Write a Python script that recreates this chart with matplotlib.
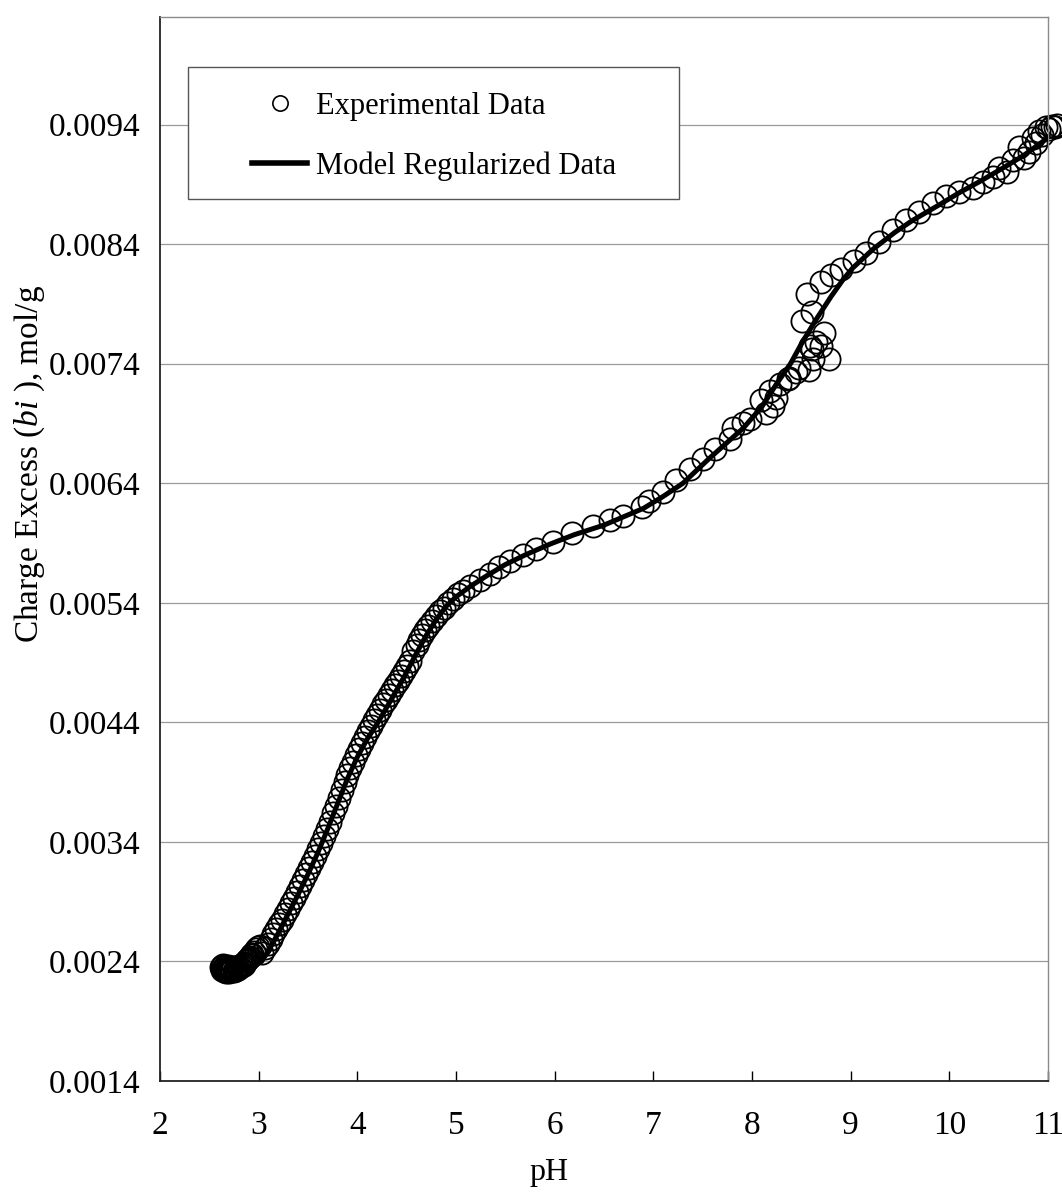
import matplotlib
matplotlib.use("Agg")
import matplotlib.pyplot as plt
from matplotlib.lines import Line2D
from matplotlib.patches import Rectangle
from matplotlib.ticker import FixedLocator, FormatStrFormatter

plt.rcParams['font.family'] = ['Liberation Serif', 'DejaVu Serif']
plt.rcParams['mathtext.fontset'] = 'custom'
plt.rcParams['mathtext.rm'] = 'Liberation Serif'
plt.rcParams['mathtext.it'] = 'Liberation Serif:italic'

# Titration data: pH vs charge excess (mol/g, in units of 1e-3)
exp_ph = [2.62, 2.63, 2.63, 2.64, 2.64, 2.65, 2.65, 2.66, 2.66, 2.67, 2.67, 2.68,
          2.68, 2.69, 2.69, 2.70, 2.70, 2.71, 2.71, 2.72, 2.72, 2.73, 2.74, 2.75,
          2.76, 2.77, 2.78, 2.79, 2.80, 2.81, 2.82, 2.83, 2.84, 2.85, 2.86, 2.87,
          2.88, 2.89, 2.90, 2.91, 2.92, 2.93, 2.95, 2.97, 2.99,
          3.01, 3.03, 3.06, 3.09, 3.12, 3.15, 3.18, 3.21, 3.24, 3.27, 3.30, 3.33,
          3.36, 3.39, 3.42, 3.45, 3.48, 3.51, 3.54, 3.57, 3.60, 3.63, 3.66, 3.69,
          3.72, 3.75, 3.78, 3.81, 3.84, 3.87, 3.90, 3.93, 3.96, 3.99, 4.02, 4.05,
          4.08, 4.11, 4.14, 4.17, 4.20, 4.23, 4.26, 4.29, 4.32, 4.35, 4.38, 4.41,
          4.44, 4.47, 4.50, 4.53, 4.56, 4.60, 4.63, 4.66, 4.69, 4.72, 4.76, 4.80,
          4.84, 4.88, 4.92, 4.97, 5.02, 5.07, 5.14, 5.24, 5.34, 5.44, 5.55, 5.68,
          5.81, 5.98, 6.18, 6.39, 6.56, 6.69, 6.89, 6.96, 7.10, 7.23, 7.37, 7.50,
          7.63, 7.78, 7.81, 7.91, 7.98, 8.09, 8.14, 8.18, 8.21, 8.24, 8.28, 8.36,
          8.38, 8.45, 8.48, 8.51, 8.56, 8.58, 8.59, 8.61, 8.61, 8.62, 8.65, 8.70,
          8.70, 8.73, 8.78, 8.80, 8.90, 9.03, 9.16, 9.29, 9.43, 9.56, 9.69, 9.83,
          9.97, 10.10, 10.24, 10.34, 10.44, 10.50, 10.58, 10.65, 10.71, 10.76,
          10.81, 10.85, 10.88, 10.91, 10.94, 10.98, 11.01, 11.04, 11.07, 11.09]
exp_bi = [2.35, 2.33, 2.36, 2.34, 2.37, 2.32, 2.35, 2.33, 2.36, 2.34, 2.31, 2.35,
          2.33, 2.36, 2.32, 2.34, 2.31, 2.35, 2.33, 2.32, 2.34, 2.33, 2.35, 2.32,
          2.34, 2.33, 2.35, 2.34, 2.36, 2.35, 2.37, 2.36, 2.38, 2.37, 2.39, 2.40,
          2.41, 2.42, 2.43, 2.44, 2.45, 2.46, 2.48, 2.50, 2.52,
          2.53, 2.47, 2.51, 2.55, 2.59, 2.63, 2.67, 2.71, 2.75, 2.80, 2.84, 2.89,
          2.93, 2.98, 3.03, 3.08, 3.13, 3.18, 3.23, 3.28, 3.34, 3.39, 3.45, 3.51,
          3.57, 3.64, 3.70, 3.77, 3.83, 3.90, 3.96, 4.02, 4.07, 4.13, 4.18, 4.23,
          4.28, 4.33, 4.37, 4.42, 4.46, 4.50, 4.55, 4.59, 4.63, 4.67, 4.71, 4.75,
          4.79, 4.83, 4.87, 4.91, 5.00, 5.05, 5.09, 5.13, 5.17, 5.21, 5.25, 5.29,
          5.33, 5.36, 5.40, 5.43, 5.47, 5.50, 5.54, 5.59, 5.64, 5.70, 5.75, 5.80,
          5.85, 5.91, 5.98, 6.04, 6.09, 6.13, 6.20, 6.25, 6.33, 6.43, 6.52, 6.60,
          6.69, 6.77, 6.86, 6.90, 6.94, 7.10, 6.99, 7.17, 7.05, 7.11, 7.23, 7.27,
          7.28, 7.33, 7.36, 7.76, 7.98, 7.35, 7.55, 7.83, 7.52, 7.44, 7.58, 7.55,
          8.08, 7.66, 7.44, 8.14, 8.19, 8.26, 8.33, 8.42, 8.52, 8.60, 8.67, 8.74,
          8.80, 8.84, 8.87, 8.92, 8.96, 9.04, 9.00, 9.10, 9.21, 9.12,
          9.17, 9.29, 9.25, 9.35, 9.31, 9.38, 9.36, 9.39, 9.38, 9.40]

model_ph = [2.68, 2.75, 2.85, 2.95, 3.03, 3.10, 3.20, 3.30, 3.40, 3.50, 3.60, 3.70,
            3.80, 3.90, 4.00, 4.10, 4.21, 4.35, 4.48, 4.60, 4.70, 4.80, 4.90, 5.00,
            5.15, 5.30, 5.50, 5.70, 5.95, 6.20, 6.50, 6.90, 7.10, 7.30, 7.57, 7.91,
            8.10, 8.24, 8.39, 8.51, 8.65, 8.80, 8.92, 9.02, 9.23, 9.45, 9.63, 9.90,
            10.10, 10.30, 10.55, 10.75, 10.90, 11.00, 11.05]
model_bi = [2.31, 2.31, 2.33, 2.36, 2.40, 2.49, 2.64, 2.80, 2.96, 3.13, 3.31, 3.51,
            3.72, 3.93, 4.11, 4.26, 4.40, 4.60, 4.79, 4.98, 5.13, 5.26, 5.37, 5.45,
            5.54, 5.62, 5.72, 5.80, 5.89, 5.97, 6.05, 6.19, 6.29, 6.40, 6.61, 6.86,
            7.04, 7.22, 7.40, 7.58, 7.77, 7.96, 8.10, 8.20, 8.36, 8.50, 8.60, 8.73,
            8.83, 8.92, 9.04, 9.14, 9.23, 9.29, 9.33]

x_ticks = [2, 3, 4, 5, 6, 7, 8, 9, 10, 11]
y_ticks = [0.0014, 0.0024, 0.0034, 0.0044, 0.0054, 0.0064, 0.0074, 0.0084, 0.0094]

W, H = 1062, 1197
fig = plt.figure(figsize=(W / 100, H / 100), dpi=100)
ax = fig.add_axes([160 / W, 1 - 1081 / H, 888 / W, 1064 / H])

scale = 1e-3
ax.plot(model_ph, [v * scale for v in model_bi], color='black', lw=3.6,
        solid_capstyle='round', zorder=3, label='Model Regularized Data')
ax.plot(exp_ph, [v * scale for v in exp_bi], ls='none', marker='o', ms=16,
        mfc='none', mec='black', mew=1.3, zorder=2, clip_on=False,
        label='Experimental Data')

ax.set_xlim(2, 11)
ax.set_ylim(0.0014, 0.0103)
ax.xaxis.set_major_locator(FixedLocator(x_ticks))
ax.yaxis.set_major_locator(FixedLocator(y_ticks))
ax.yaxis.set_major_formatter(FormatStrFormatter('%.4f'))
ax.grid(axis='y', color='#9a9a9a', lw=0.9)
ax.set_axisbelow(True)

ax.tick_params(axis='x', direction='in', length=7, width=1, pad=21, labelsize=24)
ax.tick_params(axis='y', length=0, pad=14, labelsize=24)

for side in ('left', 'bottom'):
    ax.spines[side].set_color('#222222')
    ax.spines[side].set_linewidth(1.3)
for side in ('top', 'right'):
    ax.spines[side].set_color('#8a8a8a')
    ax.spines[side].set_linewidth(1.0)

ax.set_xlabel('pH', fontsize=23)
ax.xaxis.set_label_coords(0.438, -0.072)
ax.set_ylabel(r'Charge Excess ($bi$ ), mol/g', fontsize=24)
ax.yaxis.set_label_coords(-0.127, 0.58)

# Legend box with its entries
box = Rectangle((188 / W, 1 - 199 / H), (679 - 188) / W, (199 - 67) / H,
                transform=fig.transFigure, facecolor='white', edgecolor='#555555',
                lw=1.0, zorder=4)
ax.add_artist(box)
box.set_clip_on(False)

handles = [Line2D([], [], ls='none', marker='o', ms=11, mfc='none', mec='black', mew=1.2),
           Line2D([], [], color='black', lw=4)]
leg = ax.legend(handles, ['Experimental Data', 'Model Regularized Data'],
                loc='upper left', bbox_to_anchor=(252 / W, 1 - 92 / H),
                bbox_transform=fig.transFigure, frameon=False, borderpad=0,
                borderaxespad=0, handlelength=1.8, handletextpad=0.28,
                labelspacing=1.0, fontsize=22)
leg.set_zorder(5)

fig.savefig('out.png', dpi=100, facecolor='white')
